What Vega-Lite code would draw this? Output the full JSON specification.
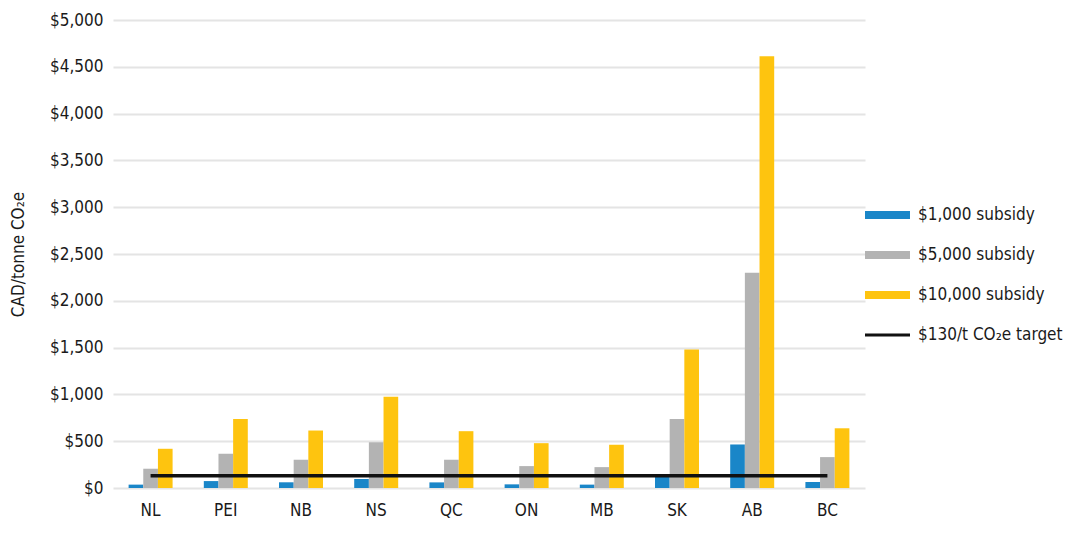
{
  "$schema": "https://vega.github.io/schema/vega-lite/v6.json",
  "width": 752,
  "height": 468,
  "autosize": "none",
  "padding": {"left": 113, "top": 20, "right": 225, "bottom": 56},
  "background": "white",
  "config": {
    "view": {"stroke": null},
    "font": "DejaVu Sans Condensed, Roboto",
    "axis": {"labelFont": "DejaVu Sans Condensed, Roboto", "titleFont": "DejaVu Sans Condensed, Roboto"},
    "legend": {"labelFont": "DejaVu Sans Condensed, Roboto"}
  },
  "datasets": {
    "costs": [
      {"province": "NL", "series": "$1,000 subsidy", "value": 36},
      {"province": "NL", "series": "$5,000 subsidy", "value": 206},
      {"province": "NL", "series": "$10,000 subsidy", "value": 419},
      {"province": "PEI", "series": "$1,000 subsidy", "value": 74},
      {"province": "PEI", "series": "$5,000 subsidy", "value": 366},
      {"province": "PEI", "series": "$10,000 subsidy", "value": 738},
      {"province": "NB", "series": "$1,000 subsidy", "value": 61},
      {"province": "NB", "series": "$5,000 subsidy", "value": 302},
      {"province": "NB", "series": "$10,000 subsidy", "value": 614},
      {"province": "NS", "series": "$1,000 subsidy", "value": 96},
      {"province": "NS", "series": "$5,000 subsidy", "value": 490},
      {"province": "NS", "series": "$10,000 subsidy", "value": 976},
      {"province": "QC", "series": "$1,000 subsidy", "value": 60},
      {"province": "QC", "series": "$5,000 subsidy", "value": 302},
      {"province": "QC", "series": "$10,000 subsidy", "value": 607},
      {"province": "ON", "series": "$1,000 subsidy", "value": 39},
      {"province": "ON", "series": "$5,000 subsidy", "value": 234},
      {"province": "ON", "series": "$10,000 subsidy", "value": 479},
      {"province": "MB", "series": "$1,000 subsidy", "value": 36},
      {"province": "MB", "series": "$5,000 subsidy", "value": 223},
      {"province": "MB", "series": "$10,000 subsidy", "value": 462},
      {"province": "SK", "series": "$1,000 subsidy", "value": 145},
      {"province": "SK", "series": "$5,000 subsidy", "value": 738},
      {"province": "SK", "series": "$10,000 subsidy", "value": 1479},
      {"province": "AB", "series": "$1,000 subsidy", "value": 465},
      {"province": "AB", "series": "$5,000 subsidy", "value": 2300},
      {"province": "AB", "series": "$10,000 subsidy", "value": 4612},
      {"province": "BC", "series": "$1,000 subsidy", "value": 64},
      {"province": "BC", "series": "$5,000 subsidy", "value": 330},
      {"province": "BC", "series": "$10,000 subsidy", "value": 638}
    ],
    "target": [
      {"province": "NL", "value": 130},
      {"province": "PEI", "value": 130},
      {"province": "NB", "value": 130},
      {"province": "NS", "value": 130},
      {"province": "QC", "value": 130},
      {"province": "ON", "value": 130},
      {"province": "MB", "value": 130},
      {"province": "SK", "value": 130},
      {"province": "AB", "value": 130},
      {"province": "BC", "value": 130}
    ]
  },
  "encoding": {
    "x": {
      "field": "province",
      "type": "nominal",
      "sort": ["NL", "PEI", "NB", "NS", "QC", "ON", "MB", "SK", "AB", "BC"],
      "scale": {"paddingInner": 0.415, "paddingOuter": 0.2075},
      "axis": {
        "title": null,
        "labelAngle": 0,
        "labelFontSize": 17,
        "labelColor": "#1a1a1a",
        "labelPadding": 14,
        "ticks": false,
        "domain": false
      }
    },
    "y": {
      "field": "value",
      "type": "quantitative",
      "scale": {"domain": [0, 5000], "nice": false},
      "axis": {
        "title": "CAD/tonne CO₂e",
        "titleFontSize": 17,
        "titleFontWeight": "normal",
        "titleColor": "#1a1a1a",
        "titlePadding": 22,
        "values": [0, 500, 1000, 1500, 2000, 2500, 3000, 3500, 4000, 4500, 5000],
        "format": "$,.0f",
        "labelFontSize": 17,
        "labelColor": "#1a1a1a",
        "labelPadding": 10,
        "ticks": false,
        "domain": false,
        "gridColor": "#e4e4e4",
        "gridWidth": 2
      }
    }
  },
  "layer": [
    {
      "data": {"name": "costs"},
      "mark": {"type": "bar"},
      "encoding": {
        "xOffset": {
          "field": "series",
          "type": "nominal",
          "sort": ["$1,000 subsidy", "$5,000 subsidy", "$10,000 subsidy"],
          "scale": {"paddingInner": 0, "paddingOuter": 0}
        },
        "color": {
          "field": "series",
          "type": "nominal",
          "scale": {
            "domain": ["$1,000 subsidy", "$5,000 subsidy", "$10,000 subsidy", "$130/t CO₂e target"],
            "range": ["#1a86c8", "#b3b3b3", "#fec40f", "#111111"]
          },
          "legend": {
            "title": null,
            "orient": "none",
            "legendX": 752,
            "legendY": 185,
            "labelFontSize": 17,
            "labelColor": "#1a1a1a",
            "labelOffset": 33,
            "rowPadding": 22,
            "symbolSize": 400,
            "symbolStrokeWidth": 0,
            "symbolOpacity": 1,
            "encode": {
              "symbols": {
                "update": {
                  "shape": {"signal": "datum.value === '$130/t CO₂e target' ? 'M-1,-0.15H3.5V0.15H-1Z' : 'M-1,-0.4H3.5V0.4H-1Z'"},
                  "fill": {"scale": "color", "field": "value"},
                  "strokeWidth": {"value": 0},
                  "opacity": {"value": 1}
                }
              }
            }
          }
        }
      }
    },
    {
      "data": {"name": "target"},
      "mark": {"type": "line", "strokeWidth": 3.5},
      "encoding": {
        "color": {"datum": "$130/t CO₂e target"}
      }
    }
  ]
}
